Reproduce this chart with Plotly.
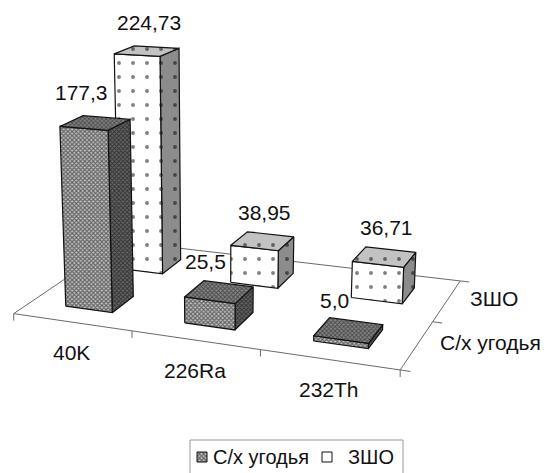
import numpy as np
import plotly.graph_objects as go

# ---------------- data ----------------
categories = ["40K", "226Ra", "232Th"]
series_names = ["С/х угодья", "ЗШО"]
values_cx = [177.3, 25.5, 5.0]
values_zsho = [224.73, 38.95, 36.71]
labels_cx = ["177,3", "25,5", "5,0"]
labels_zsho = ["224,73", "38,95", "36,71"]

# ---------------- view (perspective camera of the 3-D plot box) ----------------
# world: x = category index, y = series depth, z = value/100 ; maps to pixel coords
CAMERA = np.array([
    [113.1669, 63.03764, -4.640424, 13.70318],
    [4.305639, -17.00187, -105.2791, 313.6366],
    [-0.03911309, 0.07935304, -0.02140264, 1.0],
])


def proj(X, Y, Z):
    h = CAMERA @ np.array([X, Y, Z / 100.0, 1.0])
    return h[0] / h[2], h[1] / h[2]


FONT = "Liberation Sans, Arial, sans-serif"
TXT = "#111111"
BAR = 0.4          # bar width/depth as fraction of a cell (gap 150 %)
N_CAT = len(categories)
N_SER = len(series_names)

fig = go.Figure()


def poly_px(xs, ys, fillcolor, pattern=None, line_color="#111", lw=1.2):
    xs = list(xs) + [xs[0]]; ys = list(ys) + [ys[0]]
    kw = dict(x=xs, y=ys, mode="lines", fill="toself", fillcolor=fillcolor,
              line=dict(color=line_color, width=lw), hoverinfo="skip", showlegend=False)
    if pattern is not None:
        kw["fillpattern"] = pattern
    fig.add_trace(go.Scatter(**kw))


def poly(pts3d, fillcolor, pattern=None, line_color="#111", lw=1.2):
    uv = [proj(*p) for p in pts3d]
    poly_px([p[0] for p in uv], [p[1] for p in uv], fillcolor, pattern, line_color, lw)


def line_px(xs, ys, color="#6a6a6a", lw=1):
    fig.add_trace(go.Scatter(x=xs, y=ys, mode="lines", line=dict(color=color, width=lw),
                             hoverinfo="skip", showlegend=False))


# floor of the plot box with tick marks
poly([(0, 0, 0), (N_CAT, 0, 0), (N_CAT, N_SER, 0), (0, N_SER, 0)], "#ffffff",
     line_color="#6a6a6a", lw=1)
for i in range(N_CAT + 1):
    u, v = proj(i, 0, 0)
    line_px([u, u], [v, v + 7])
for j in range(N_SER + 1):
    u1, v1 = proj(N_CAT, j, 0); u2, v2 = proj(N_CAT + 0.07, j, 0)
    line_px([u1, u2], [v1, v2])

PAT = {
    0: dict(front=dict(shape="x", bgcolor="#c4c4c4", fgcolor="#000000", size=3, solidity=0.6),
            right=dict(shape="x", bgcolor="#666666", fgcolor="#000000", size=3, solidity=0.55),
            top=dict(shape="x", bgcolor="#858585", fgcolor="#111111", size=3, solidity=0.55)),
    1: dict(front=dict(shape=".", bgcolor="#ffffff", fgcolor="#000000", size=14, solidity=0.06),
            right=dict(shape=".", bgcolor="#8c8c8c", fgcolor="#000000", size=14, solidity=0.06),
            top=dict(shape=".", bgcolor="#c2c2c2", fgcolor="#000000", size=14, solidity=0.06)),
}
FACE = {0: ("#555555", "#404040", "#606060"), 1: ("#ffffff", "#8c8c8c", "#c2c2c2")}

series_vals = [values_cx, values_zsho]
series_labels = [labels_cx, labels_zsho]
LABEL_OFF = {0: (-14, -30), 1: (2, -29)}

annotations = []
for j in reversed(range(N_SER)):
    for i in range(N_CAT):
        z = series_vals[j][i]
        x0, x1 = i + 0.5 - BAR / 2, i + 0.5 + BAR / 2
        y0, y1 = j + 0.5 - BAR / 2, j + 0.5 + BAR / 2
        st = PAT[j]
        poly([(x1, y0, 0), (x1, y1, 0), (x1, y1, z), (x1, y0, z)], FACE[j][1], st["right"])
        poly([(x0, y0, 0), (x1, y0, 0), (x1, y0, z), (x0, y0, z)], FACE[j][0], st["front"])
        poly([(x0, y0, z), (x1, y0, z), (x1, y1, z), (x0, y1, z)], FACE[j][2], st["top"])
        u, v = proj(i + 0.5, j + 0.5, z)
        dx, dy = LABEL_OFF[j]
        annotations.append(dict(x=u + dx, y=v + dy, xref="x", yref="y", text=series_labels[j][i],
                                showarrow=False, font=dict(family=FONT, size=21, color=TXT),
                                xanchor="center", yanchor="middle"))

for i, c in enumerate(categories):
    u, v = proj(i + 0.5, 0, 0)
    annotations.append(dict(x=u, y=v + 30, xref="x", yref="y", text=c, showarrow=False,
                            font=dict(family=FONT, size=21, color=TXT),
                            xanchor="center", yanchor="middle"))
for j, s in enumerate(series_names):
    u, v = proj(N_CAT, j + 0.5, 0)
    annotations.append(dict(x=u + 21, y=v - 2, xref="x", yref="y", text=s, showarrow=False,
                            font=dict(family=FONT, size=21, color=TXT),
                            xanchor="left", yanchor="middle"))

# legend (drawn manually)
LEG_X0, LEG_X1, LEG_Y0, LEG_Y1 = 190, 403, 440, 476
shapes = [dict(type="rect", xref="x", yref="y", x0=LEG_X0, x1=LEG_X1, y0=LEG_Y0, y1=LEG_Y1,
               line=dict(color="#9a9a9a", width=1), fillcolor="rgba(0,0,0,0)", layer="above")]
sym = [(197, series_names[0]), (322, series_names[1])]
for k, (sx, name) in enumerate(sym):
    if k == 0:
        poly_px([sx, sx + 10, sx + 10, sx], [452, 452, 462, 462], "#555555", PAT[0]["front"], lw=1)
    else:
        poly_px([sx, sx + 10, sx + 10, sx], [452, 452, 462, 462], "#ffffff", None, lw=1)
    annotations.append(dict(x=sx + 14 + (10 if k == 1 else 0), y=457, xref="x", yref="y", text=name,
                            showarrow=False, xanchor="left", yanchor="middle",
                            font=dict(family=FONT, size=20, color=TXT)))

fig.update_layout(
    width=548, height=473, margin=dict(l=0, r=0, t=0, b=0),
    paper_bgcolor="white", plot_bgcolor="white",
    xaxis=dict(range=[0, 548], visible=False, fixedrange=True),
    yaxis=dict(range=[473, 0], visible=False, fixedrange=True),
    showlegend=False, annotations=annotations, shapes=shapes,
)
fig.write_html("out.html")
